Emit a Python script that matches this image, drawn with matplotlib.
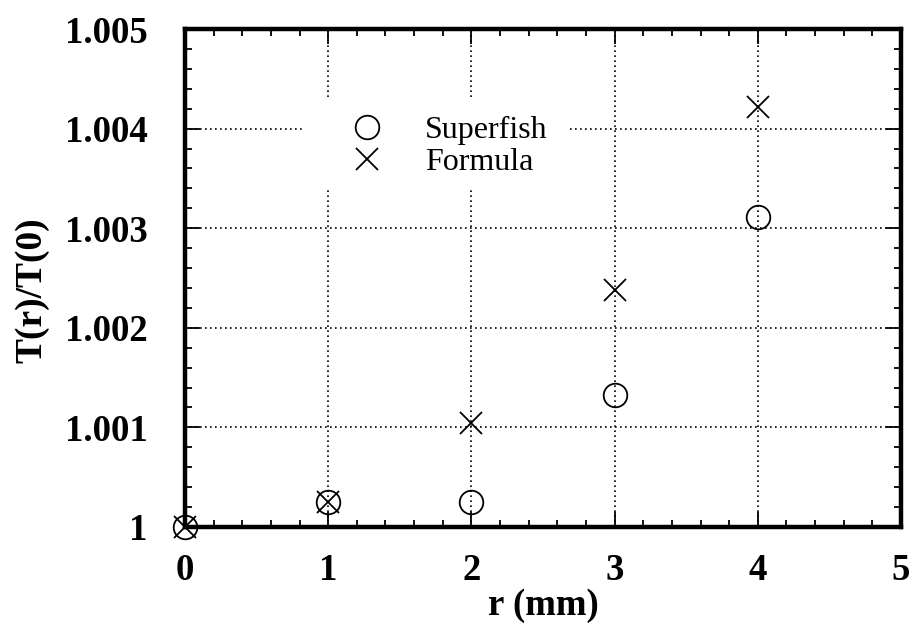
import matplotlib
matplotlib.use("Agg")
import matplotlib.pyplot as plt
from matplotlib.patches import Rectangle
from matplotlib.ticker import MultipleLocator, FixedFormatter, FixedLocator

plt.rcParams['font.family'] = ['Liberation Serif', 'DejaVu Serif']

# Radial offset (mm) and normalized transit-time factor
r_mm = [0, 1, 2, 3, 4]
superfish = [1.0000, 1.00025, 1.00025, 1.00133, 1.00311]
formula = [1.0000, 1.00025, 1.00104, 1.00238, 1.00422]

x_ticks = [0, 1, 2, 3, 4, 5]
x_tick_labels = ['0', '1', '2', '3', '4', '5']
y_ticks = [1.000, 1.001, 1.002, 1.003, 1.004, 1.005]
y_tick_labels = ['1', '1.001', '1.002', '1.003', '1.004', '1.005']

fig = plt.figure(figsize=(9.16, 6.27), dpi=100)
ax = fig.add_axes([0.202, 0.1595, 0.7816, 0.7942])

ax.plot(r_mm, superfish, linestyle='none', marker='o', markersize=17,
        markerfacecolor='none', markeredgecolor='black', markeredgewidth=1.3,
        label='Superfish', clip_on=False, zorder=5)
ax.plot(r_mm, formula, linestyle='none', marker='x', markersize=16,
        color='black', markeredgewidth=1.3, label='Formula',
        clip_on=False, zorder=5)

ax.set_xlim(0, 5)
ax.set_ylim(1.000, 1.005)

ax.xaxis.set_major_locator(FixedLocator(x_ticks))
ax.xaxis.set_major_formatter(FixedFormatter(x_tick_labels))
ax.yaxis.set_major_locator(FixedLocator(y_ticks))
ax.yaxis.set_major_formatter(FixedFormatter(y_tick_labels))
ax.xaxis.set_minor_locator(MultipleLocator(0.2))
ax.yaxis.set_minor_locator(MultipleLocator(0.0002))

ax.tick_params(which='both', direction='in', top=True, right=True,
               width=1.3, color='black')
ax.tick_params(which='major', length=11)
ax.tick_params(which='minor', length=5)
ax.tick_params(axis='y', which='major', pad=27, labelsize=26.5)
ax.tick_params(axis='x', which='major', pad=19, labelsize=26.5)
for lab in ax.get_xticklabels() + ax.get_yticklabels():
    lab.set_fontweight('bold')

ax.grid(True, which='major', linestyle=(0, (1, 2)), color='black',
        linewidth=1.2)
ax.set_axisbelow(True)

for sp in ax.spines.values():
    sp.set_linewidth(3.2)
    sp.set_zorder(6)

ax.set_xlabel('r (mm)', fontsize=26.5, fontweight='bold', labelpad=0)
ax.set_ylabel('T(r)/T(0)', fontsize=27, fontweight='bold')
ax.yaxis.set_label_coords(-0.19, 0.476)

# White patch behind the legend so the grid stops around it
ax.add_patch(Rectangle((0.165, 0.677), 0.37, 0.184, transform=ax.transAxes,
                       facecolor='white', edgecolor='none', zorder=2))

leg = ax.legend(loc='center left', bbox_to_anchor=(0.232, 0.764),
                frameon=False, fontsize=23,
                handlelength=1.0, handletextpad=1.3, labelspacing=0.08,
                borderpad=0, borderaxespad=0)
leg.set_zorder(4)

fig.savefig('out.png', dpi=100)
